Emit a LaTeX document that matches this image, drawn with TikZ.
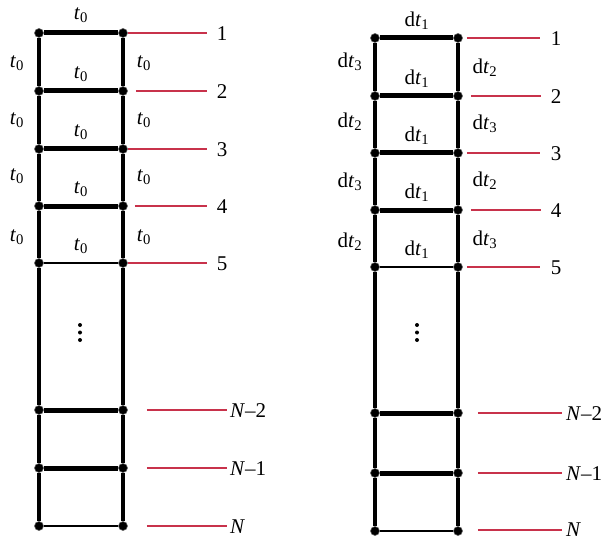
\documentclass[tikz,border=0pt]{standalone}
\usepackage{fontspec}
\setmainfont{Liberation Serif}
\definecolor{leadred}{RGB}{200,50,75}
\tikzset{
  joint/.style={circle,fill=black,draw=black!60,line width=0.6pt,inner sep=0pt,minimum size=9pt},
  rail/.style={line width=3.4pt},
  rung/.style={line width=5pt},
  thinrung/.style={line width=2.8pt},
  lead/.style={draw=leadred,line width=1.2pt},
  dot/.style={circle,fill=black,inner sep=0pt,minimum size=4pt}
}
\newcommand{\tz}{\textit{t}\textsubscript{0}}
\newcommand{\dt}[1]{d\textit{t}\textsubscript{#1}}
\begin{document}
\begin{tikzpicture}[x=1pt,y=-1pt,every node/.style={font=\fontsize{21}{24}\selectfont,inner sep=1pt}]
\useasboundingbox (0,0) rectangle (607,540);
% left ladder
\node[joint] (a1) at (39,33) {};
\node[joint] (a2) at (39,91) {};
\node[joint] (a3) at (39,149) {};
\node[joint] (a4) at (39,206) {};
\node[joint] (a5) at (39,263) {};
\node[joint] (aM) at (39,410) {};
\node[joint] (aL) at (39,468) {};
\node[joint] (aN) at (39,526) {};
\node[joint] (b1) at (123,33) {};
\node[joint] (b2) at (123,91) {};
\node[joint] (b3) at (123,149) {};
\node[joint] (b4) at (123,206) {};
\node[joint] (b5) at (123,263) {};
\node[joint] (bM) at (123,410) {};
\node[joint] (bL) at (123,468) {};
\node[joint] (bN) at (123,526) {};
\draw[rail] (a1) -- (a2) -- (a3) -- (a4) -- (a5) -- (aM) -- (aL) -- (aN);
\draw[rail] (b1) -- (b2) -- (b3) -- (b4) -- (b5) -- (bM) -- (bL) -- (bN);
\draw[rung] (a1) -- (b1);
\draw[rung] (a2) -- (b2);
\draw[rung] (a3) -- (b3);
\draw[rung] (a4) -- (b4);
\draw[thinrung] (a5) -- (b5);
\draw[rung] (aM) -- (bM);
\draw[rung] (aL) -- (bL);
\draw[thinrung] (aN) -- (bN);
\coordinate (p1) at (207,33);
\coordinate (p2) at (207,91);
\coordinate (p3) at (207,149);
\coordinate (p4) at (207,206);
\coordinate (p5) at (207,263);
\coordinate (pM) at (227,410);
\coordinate (pL) at (227,468);
\coordinate (pN) at (227,526);
\draw[lead] (b1.east) -- (p1);
\draw[lead] ([xshift=8pt]b2.east) -- (p2);
\draw[lead] (b3.east) -- (p3);
\draw[lead] ([xshift=7pt]b4.east) -- (p4);
\draw[lead] (b5.east) -- (p5);
\draw[lead] ([xshift=19pt]bM.east) -- (pM);
\draw[lead] ([xshift=19pt]bL.east) -- (pL);
\draw[lead] ([xshift=19pt]bN.east) -- (pN);
\node (n1) at (222,34) {1};
\node (n2) at (222,92) {2};
\node (n3) at (222,150) {3};
\node (n4) at (222,207) {4};
\node (n5) at (222,264) {5};
\node[anchor=west] (nM) at (229,411) {\textit{N}–2};
\node[anchor=west] (nL) at (229,469) {\textit{N}–1};
\node[anchor=base west,inner sep=0pt] (nN) at (230,533) {\textit{N}};
\node (u1) at (81,15) {\tz};
\node (u2) at (81,74) {\tz};
\node (u3) at (81,132) {\tz};
\node (u4) at (81,189) {\tz};
\node (u5) at (81,246) {\tz};
\node (s1) at (17,63) {\tz};
\node (s2) at (17,120) {\tz};
\node (s3) at (17,176) {\tz};
\node (s4) at (17,237) {\tz};
\node (e1) at (144,63) {\tz};
\node (e2) at (144,120) {\tz};
\node (e3) at (144,177) {\tz};
\node (e4) at (144,237) {\tz};
\node[dot] (v1a) at (80,325) {};
\node[dot] (v1b) at (80,332.5) {};
\node[dot] (v1c) at (80,340) {};
% right ladder
\node[joint] (c1) at (375,38) {};
\node[joint] (c2) at (375,96) {};
\node[joint] (c3) at (375,153) {};
\node[joint] (c4) at (375,210) {};
\node[joint] (c5) at (375,267) {};
\node[joint] (cM) at (375,413) {};
\node[joint] (cL) at (375,473) {};
\node[joint] (cN) at (375,531) {};
\node[joint] (d1) at (458,38) {};
\node[joint] (d2) at (458,96) {};
\node[joint] (d3) at (458,153) {};
\node[joint] (d4) at (458,210) {};
\node[joint] (d5) at (458,267) {};
\node[joint] (dM) at (458,413) {};
\node[joint] (dL) at (458,473) {};
\node[joint] (dN) at (458,531) {};
\draw[rail] (c1) -- (c2) -- (c3) -- (c4) -- (c5) -- (cM) -- (cL) -- (cN);
\draw[rail] (d1) -- (d2) -- (d3) -- (d4) -- (d5) -- (dM) -- (dL) -- (dN);
\draw[rung] (c1) -- (d1);
\draw[rung] (c2) -- (d2);
\draw[rung] (c3) -- (d3);
\draw[rung] (c4) -- (d4);
\draw[thinrung] (c5) -- (d5);
\draw[rung] (cM) -- (dM);
\draw[rung] (cL) -- (dL);
\draw[thinrung] (cN) -- (dN);
\coordinate (q1) at (540,38);
\coordinate (q2) at (541,96);
\coordinate (q3) at (540,153);
\coordinate (q4) at (541,210);
\coordinate (q5) at (540,267);
\coordinate (qM) at (562,413);
\coordinate (qL) at (562,473);
\coordinate (qN) at (562,530);
\draw[lead] ([xshift=4pt]d1.east) -- (q1);
\draw[lead] ([xshift=8pt]d2.east) -- (q2);
\draw[lead] ([xshift=4pt]d3.east) -- (q3);
\draw[lead] ([xshift=8pt]d4.east) -- (q4);
\draw[lead] ([xshift=4pt]d5.east) -- (q5);
\draw[lead] ([xshift=15pt]dM.east) -- (qM);
\draw[lead] ([xshift=15pt]dL.east) -- (qL);
\draw[lead] ([xshift=15pt,yshift=1pt]dN.east) -- (qN);
\node (m1) at (556,39) {1};
\node (m2) at (556,97) {2};
\node (m3) at (556,154) {3};
\node (m4) at (556,211) {4};
\node (m5) at (556,268) {5};
\node[anchor=west] (mM) at (565,414) {\textit{N}–2};
\node[anchor=west] (mL) at (565,474) {\textit{N}–1};
\node[anchor=base west,inner sep=0pt] (mN) at (566,536.5) {\textit{N}};
\node (w1) at (417,21) {\dt1};
\node (w2) at (417,79) {\dt1};
\node (w3) at (417,136) {\dt1};
\node (w4) at (417,193) {\dt1};
\node (w5) at (417,250) {\dt1};
\node (g1) at (350,62) {\dt3};
\node (g2) at (350,122) {\dt2};
\node (g3) at (350,182) {\dt3};
\node (g4) at (350,242) {\dt2};
\node (h1) at (485,68) {\dt2};
\node (h2) at (485,124) {\dt3};
\node (h3) at (485,181) {\dt2};
\node (h4) at (485,240) {\dt3};
\node[dot] (v2a) at (417,325) {};
\node[dot] (v2b) at (417,332.5) {};
\node[dot] (v2c) at (417,340) {};
\end{tikzpicture}
\end{document}
